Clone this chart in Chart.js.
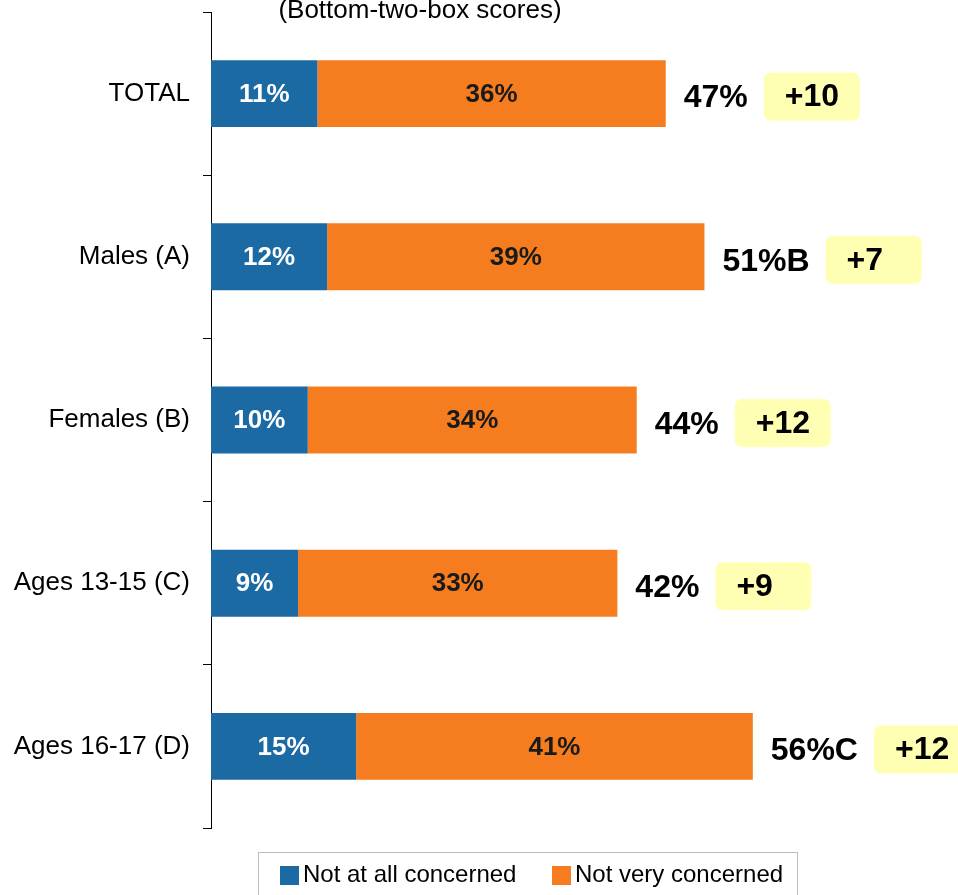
<!DOCTYPE html>
<html>
<head>
<meta charset="utf-8">
<script src="https://cdn.jsdelivr.net/npm/chart.js@4.4.1/dist/chart.umd.min.js"></script>
<style>
  html, body { margin: 0; padding: 0; background: #fff; overflow: hidden; }
  #wrap { position: relative; width: 958px; height: 895px; }
</style>
</head>
<body>
<div id="wrap"><canvas id="concernChart" width="958" height="895"></canvas></div>
<script>
// chart data
const categories = ['TOTAL', 'Males (A)', 'Females (B)', 'Ages 13-15 (C)', 'Ages 16-17 (D)'];
const notAtAll = [11, 12, 10, 9, 15];
const notVery = [36, 39, 34, 33, 41];
const sigLetters = ['', 'B', '', '', 'C'];
const changes = ['+10', '+7', '+12', '+9', '+12'];
const seriesNames = ['Not at all concerned', 'Not very concerned'];
const titleText = '(Bottom-two-box scores)';

const BLUE = '#1b6aa3';
const ORANGE = '#f57d1f';
const FONT = '"Liberation Sans", Arial, sans-serif';

// draws segment labels, totals, change boxes, title and the legend
const annotations = {
  id: 'annotations',
  afterDatasetsDraw(chart) {
    const ctx = chart.ctx;
    const xs = chart.scales.x;
    ctx.save();

    // labels inside the segments
    chart.data.datasets.forEach((ds, di) => {
      const meta = chart.getDatasetMeta(di);
      meta.data.forEach((bar, i) => {
        const cx = (bar.x + bar.base) / 2;
        ctx.font = 'bold 26px ' + FONT;
        ctx.fillStyle = di === 0 ? '#ffffff' : '#1a1a1a';
        ctx.textAlign = 'center';
        ctx.textBaseline = 'middle';
        ctx.fillText(ds.data[i] + '%', cx, bar.y + 1);
      });
    });

    // totals and change boxes
    const metaTop = chart.getDatasetMeta(1);
    metaTop.data.forEach((bar, i) => {
      const total = notAtAll[i] + notVery[i];
      const label = total + '%' + sigLetters[i];
      const tx = xs.getPixelForValue(total) + 18;
      ctx.font = 'bold 32px ' + FONT;
      ctx.fillStyle = '#000';
      ctx.textAlign = 'left';
      ctx.textBaseline = 'middle';
      ctx.fillText(label, tx, bar.y + 5);
      const w = ctx.measureText(label).width;

      const bx = tx + w + 16;
      const bw = 96, bh = 48;
      const by = bar.y + 3 - bh / 2;
      ctx.fillStyle = '#ffffb4';
      ctx.beginPath();
      ctx.roundRect(bx, by, bw, bh, 7);
      ctx.fill();
      ctx.fillStyle = '#000';
      ctx.fillText(changes[i], bx + 21, bar.y + 4);
    });

    // title (partly cut at the top)
    ctx.font = '26px ' + FONT;
    ctx.fillStyle = '#000';
    ctx.textAlign = 'center';
    ctx.textBaseline = 'alphabetic';
    ctx.fillText(titleText, 420, 18);

    // legend box
    ctx.strokeStyle = '#bdbdbd';
    ctx.lineWidth = 1;
    ctx.strokeRect(258.5, 852.5, 539, 60);
    const items = [
      { x: 280, color: BLUE, text: seriesNames[0] },
      { x: 552, color: ORANGE, text: seriesNames[1] }
    ];
    ctx.font = '24px ' + FONT;
    ctx.textAlign = 'left';
    ctx.textBaseline = 'middle';
    items.forEach(it => {
      ctx.fillStyle = it.color;
      ctx.fillRect(it.x, 866, 19, 19);
      ctx.fillStyle = '#000';
      ctx.fillText(it.text, it.x + 23, 875);
    });

    ctx.restore();
  }
};

new Chart(document.getElementById('concernChart'), {
  type: 'bar',
  data: {
    labels: categories,
    datasets: [
      { label: seriesNames[0], data: notAtAll, backgroundColor: BLUE },
      { label: seriesNames[1], data: notVery, backgroundColor: ORANGE }
    ]
  },
  options: {
    indexAxis: 'y',
    responsive: false,
    animation: false,
    maintainAspectRatio: false,
    devicePixelRatio: 1,
    barPercentage: 0.41,
    categoryPercentage: 1.0,
    layout: { padding: { top: 12, right: 2, bottom: 67, left: 0 } },
    plugins: {
      legend: { display: false },
      tooltip: { enabled: false },
      title: { display: false }
    },
    scales: {
      x: {
        stacked: true,
        display: false,
        min: 0,
        max: 77
      },
      y: {
        stacked: true,
        afterFit(scale) {
          scale.width = 211;
          scale.paddingTop = 0;
          scale.paddingBottom = 0;
        },
        border: { display: true, color: '#000', width: 1 },
        grid: {
          offset: true,
          drawOnChartArea: false,
          drawTicks: true,
          tickLength: 8,
          color: '#000'
        },
        ticks: {
          color: '#000',
          padding: 13,
          font: { family: FONT, size: 26 }
        }
      }
    }
  },
  plugins: [annotations]
});
</script>
</body>
</html>
